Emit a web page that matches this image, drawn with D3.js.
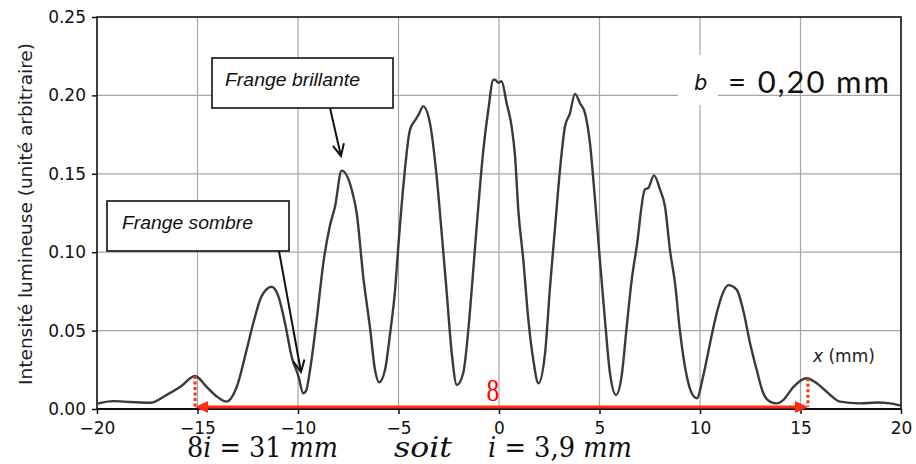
<!DOCTYPE html>
<html><head><meta charset="utf-8">
<script src="https://cdn.jsdelivr.net/npm/d3@7"></script>
<style>
html,body{margin:0;padding:0;background:#fff;}
svg{display:block;}
</style></head>
<body>
<script>
// Intensity profile
const posX = [-20.0,-19.2,-18.36,-17.36,-16.53,-15.87,-15.12,-14.54,-14.04,-13.55,-13.05,-12.55,-12.22,-11.81,-11.31,-10.98,-10.65,-10.31,-9.98,-9.74,-9.6,-9.4,-9.07,-8.74,-8.41,-8.16,-7.83,-7.33,-7.08,-6.75,-6.42,-6.17,-5.96,-5.67,-5.42,-5.17,-5.01,-4.76,-4.43,-4.18,-4.01,-3.77,-3.43,-3.10,-2.85,-2.60,-2.35,-2.10,-1.78,-1.44,-1.19,-0.78,-0.53,-0.28,-0.20,-0.03,0.13,0.38,0.63,0.80,0.96,1.21,1.46,1.71,1.96,2.29,2.54,2.79,3.03,3.28,3.53,3.78,4.03,4.28,4.53,4.78,5.02,5.27,5.52,5.82,6.10,6.35,6.60,6.85,7.26,7.43,7.71,8.01,8.26,8.51,8.76,9.00,9.34,9.59,9.84,10.16,10.50,10.83,11.08,11.41,11.83,12.15,12.49,12.82,13.15,13.48,13.82,14.14,14.64,15.31,15.81,16.30,16.97,17.96,18.79,19.45,20.0];
const intensity = [0.0034,0.005,0.0045,0.004,0.009,0.014,0.021,0.014,0.008,0.0047,0.014,0.038,0.055,0.072,0.078,0.072,0.055,0.033,0.021,0.010,0.0115,0.025,0.057,0.093,0.117,0.129,0.152,0.140,0.125,0.084,0.052,0.025,0.017,0.025,0.048,0.076,0.1035,0.142,0.178,0.184,0.1875,0.193,0.182,0.148,0.112,0.074,0.0355,0.0153,0.023,0.063,0.1035,0.165,0.191,0.210,0.210,0.208,0.209,0.195,0.180,0.161,0.127,0.095,0.057,0.031,0.0164,0.0355,0.078,0.116,0.152,0.180,0.1886,0.201,0.195,0.1886,0.169,0.133,0.095,0.057,0.023,0.009,0.021,0.052,0.082,0.1035,0.140,0.141,0.149,0.140,0.129,0.101,0.080,0.050,0.021,0.010,0.0068,0.021,0.042,0.061,0.072,0.079,0.076,0.063,0.042,0.025,0.010,0.0047,0.0036,0.0057,0.014,0.0196,0.0164,0.011,0.0047,0.0036,0.0041,0.0036,0.0022];
const xTicks = [-20,-15,-10,-5,0,5,10,15,20];
const yTicks = [0.00,0.05,0.10,0.15,0.20,0.25];
const yLabel = "Intensité lumineuse (unité arbitraire)";
const xUnit = "(mm)";
const slitText = "= 0,20 mm";
const brightLabel = "Frange brillante";
const darkLabel = "Frange sombre";
const markLeft = -15.12, markRight = 15.37;   // red dotted markers
const markLeftI = 0.021, markRightI = 0.0196;
const fringeCount = "8";

const W = 916, H = 464;
const svg = d3.select("body").append("svg").attr("width", W).attr("height", H);

const x = d3.scaleLinear().domain([-20, 20]).range([97, 901]);
const y = d3.scaleLinear().domain([0, 0.25]).range([409, 17]);

// grid
const grid = svg.append("g");
grid.selectAll("line.gx").data(xTicks.slice(1, -1)).join("line")
  .attr("x1", d => x(d)).attr("x2", d => x(d)).attr("y1", y(0.25)).attr("y2", y(0))
  .attr("stroke", "#a6a6a6").attr("stroke-width", 1.2);
grid.selectAll("line.gy").data(yTicks.slice(1, -1)).join("line")
  .attr("y1", d => y(d)).attr("y2", d => y(d)).attr("x1", x(-20)).attr("x2", x(20))
  .attr("stroke", "#a6a6a6").attr("stroke-width", 1.2);

// white patch behind "b"
svg.append("rect").attr("x", 678).attr("y", 55).attr("width", 40).attr("height", 50).attr("fill", "#fff");

// axes
const ax = svg.append("g").attr("transform", `translate(0,${y(0)})`)
  .call(d3.axisBottom(x).tickValues(xTicks).tickSize(5).tickSizeOuter(0).tickPadding(6));
const ay = svg.append("g").attr("transform", `translate(${x(-20)},0)`)
  .call(d3.axisLeft(y).tickValues(yTicks).tickFormat(d3.format(".2f")).tickSize(5).tickSizeOuter(0).tickPadding(6));
[ax, ay].forEach(g => {
  g.select(".domain").remove();
  g.selectAll("line").attr("stroke", "#111").attr("stroke-width", 1.5);
  g.selectAll("text").attr("font-family", "DejaVu Sans, sans-serif").attr("font-size", 17).attr("fill", "#111");
});
ax.selectAll("text").attr("dy", "0.85em");

// frame
svg.append("rect").attr("x", x(-20)).attr("y", y(0.25)).attr("width", x(20) - x(-20)).attr("height", y(0) - y(0.25))
  .attr("fill", "none").attr("stroke", "#111").attr("stroke-width", 1.6);
svg.append("line").attr("x1", x(-20)).attr("x2", x(20)).attr("y1", y(0)).attr("y2", y(0))
  .attr("stroke", "#111").attr("stroke-width", 2.2);

// curve
const line = d3.line().x((d, i) => x(posX[i])).y(d => y(d)).curve(d3.curveMonotoneX);
svg.append("path").attr("d", line(intensity)).attr("fill", "none")
  .attr("stroke", "#3a3a3a").attr("stroke-width", 2.4).attr("stroke-linejoin", "round");

// y label
svg.append("text").attr("transform", `translate(32,${(y(0) + y(0.25)) / 2 + 1}) rotate(-90)`)
  .attr("text-anchor", "middle").attr("font-family", "DejaVu Sans, sans-serif").attr("font-size", 18.5)
  .attr("fill", "#222").text(yLabel);

// x unit label
const xu = svg.append("text").attr("x", 813).attr("y", 362).attr("font-family", "DejaVu Sans, sans-serif")
  .attr("font-size", 17).attr("fill", "#222");
xu.append("tspan").attr("font-style", "italic").text("x");
xu.append("tspan").text(" " + xUnit);

// b = 0,20 mm
svg.append("text").attr("x", 694).attr("y", 90).attr("font-family", "DejaVu Sans, sans-serif")
  .attr("font-style", "italic").attr("font-size", 21).attr("fill", "#111").text("b");
svg.append("text").attr("x", 728).attr("y", 93).attr("font-family", "Lato, Open Sans, sans-serif")
  .attr("font-size", 31).attr("fill", "#111").attr("textLength", 161).attr("lengthAdjust", "spacing").text(slitText);

// annotation boxes with arrows
function callout(bx, by, bw, bh, label, tx, ty, tw, ax1, ay1, ax2, ay2) {
  svg.append("rect").attr("x", bx).attr("y", by).attr("width", bw).attr("height", bh)
    .attr("fill", "#fff").attr("stroke", "#111").attr("stroke-width", 1.6);
  svg.append("text").attr("x", tx).attr("y", ty).attr("font-family", "Liberation Sans, Arial, sans-serif")
    .attr("font-style", "italic").attr("font-size", 18).attr("fill", "#111")
    .attr("textLength", tw).attr("lengthAdjust", "spacingAndGlyphs").text(label);
  svg.append("line").attr("x1", ax1).attr("y1", ay1).attr("x2", ax2).attr("y2", ay2)
    .attr("stroke", "#111").attr("stroke-width", 2);
  const ang = Math.atan2(ay2 - ay1, ax2 - ax1), L = 13, s = 0.45;
  const p = [[ax2 - L * Math.cos(ang - s), ay2 - L * Math.sin(ang - s)], [ax2, ay2], [ax2 - L * Math.cos(ang + s), ay2 - L * Math.sin(ang + s)]];
  svg.append("path").attr("d", d3.line()(p)).attr("fill", "none").attr("stroke", "#111").attr("stroke-width", 2);
}
callout(212, 58, 181, 50, brightLabel, 225, 86, 135, 330, 108, 341, 156);
callout(107, 201, 182, 50, darkLabel, 122, 229, 131, 279, 251, 301, 372);

// red measurement
const red = "#ff2a12";
[[markLeft, markLeftI], [markRight, markRightI]].forEach(([mx, mi]) => {
  svg.append("line").attr("x1", x(mx)).attr("x2", x(mx)).attr("y1", y(mi)).attr("y2", 407)
    .attr("stroke", red).attr("stroke-width", 3).attr("stroke-dasharray", "3,2.5");
});
const ry = 407;
svg.append("line").attr("x1", x(markLeft) + 8).attr("x2", x(markRight) - 8).attr("y1", ry).attr("y2", ry)
  .attr("stroke", red).attr("stroke-width", 3);
svg.append("path").attr("d", d3.line()([[x(markLeft), ry], [x(markLeft) + 13, ry - 6], [x(markLeft) + 13, ry + 6]]) + "Z").attr("fill", red);
svg.append("path").attr("d", d3.line()([[x(markRight), ry], [x(markRight) - 13, ry - 6], [x(markRight) - 13, ry + 6]]) + "Z").attr("fill", red);
svg.append("text").attr("x", 493).attr("y", 401).attr("text-anchor", "middle")
  .attr("font-family", "Liberation Serif, DejaVu Serif, serif").attr("font-size", 30).attr("fill", "#ff0000")
  .attr("transform", "translate(493,401) scale(0.85,1.05) translate(-493,-401)").text(fringeCount);

// bottom formula
const fs = 27, ff = "DejaVu Serif, Liberation Serif, serif", fy = 457;
const f1 = svg.append("text").attr("x", 187).attr("y", fy).attr("font-family", ff).attr("font-size", fs)
  .attr("fill", "#111").attr("textLength", 151).attr("lengthAdjust", "spacingAndGlyphs");
f1.append("tspan").text("8");
f1.append("tspan").attr("font-style", "italic").text("i");
f1.append("tspan").text(" = 31 ");
f1.append("tspan").attr("font-style", "italic").text("mm");
svg.append("text").attr("x", 394).attr("y", fy).attr("font-family", ff).attr("font-size", fs)
  .attr("font-style", "italic").attr("fill", "#111").attr("textLength", 58).attr("lengthAdjust", "spacingAndGlyphs").text("soit");
const f2 = svg.append("text").attr("x", 488).attr("y", fy).attr("font-family", ff).attr("font-size", fs)
  .attr("fill", "#111").attr("textLength", 144).attr("lengthAdjust", "spacingAndGlyphs");
f2.append("tspan").attr("font-style", "italic").text("i");
f2.append("tspan").text(" = 3,9 ");
f2.append("tspan").attr("font-style", "italic").text("mm");
</script>
</body></html>
